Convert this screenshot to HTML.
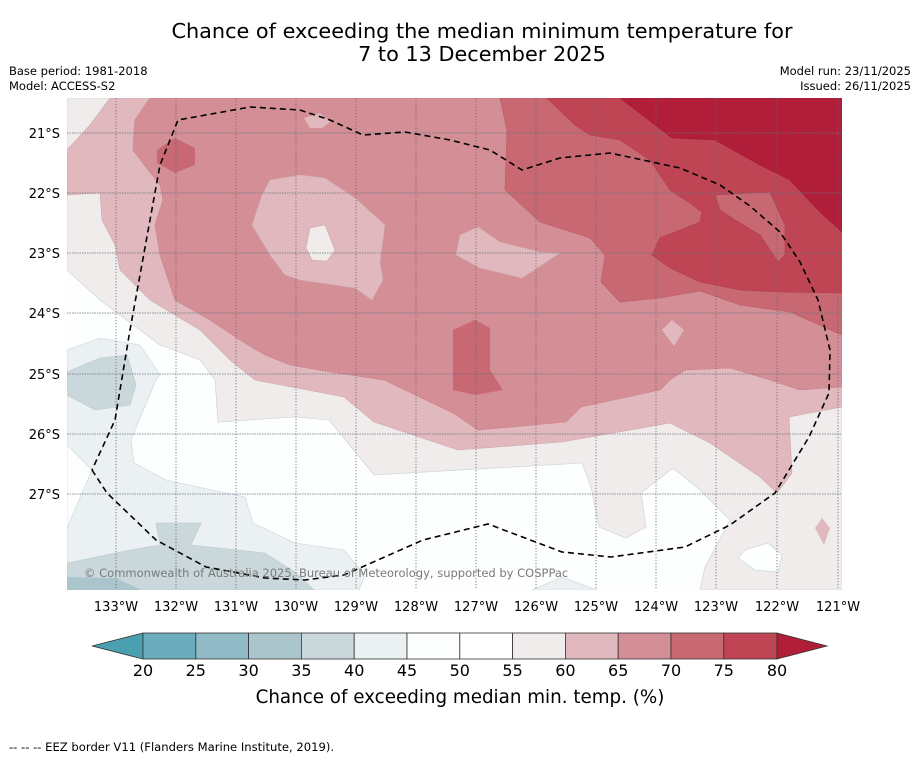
<!DOCTYPE html>
<html><head><meta charset="utf-8">
<style>
body{margin:0;background:#fff;width:919px;height:758px;overflow:hidden;font-family:"DejaVu Sans","Liberation Sans",sans-serif;}
svg{display:block}
</style></head>
<body>
<svg width="919" height="758" viewBox="0 0 919 758">
<text x="482" y="38" text-anchor="middle" font-size="20.8" fill="#000">Chance of exceeding the median minimum temperature for</text>
<text x="482" y="61" text-anchor="middle" font-size="20.8" fill="#000">7 to 13 December 2025</text>
<text x="9" y="75" font-size="11.5">Base period: 1981-2018</text>
<text x="9" y="90" font-size="11.5">Model: ACCESS-S2</text>
<text x="911" y="75" font-size="11.5" text-anchor="end">Model run: 23/11/2025</text>
<text x="911" y="90" font-size="11.5" text-anchor="end">Issued: 26/11/2025</text>

<defs><clipPath id="mc"><rect x="67" y="98" width="775" height="492"/></clipPath></defs>
<g clip-path="url(#mc)" stroke-width="0.6">
<rect x="67" y="98" width="775" height="492" fill="#fdfefe"/>
<polygon fill="#ebf0f2" stroke="#c8d6dc" points="67,350 100,338 140,345 160,375 156,380 131,440 134,463 166,480 245,497 253,523 295,543 344,550 365,575 359,590 67,590"/>
<polygon fill="#fdfefe" stroke="#c8d6dc" points="67,445 92,470 67,528"/>
<polygon fill="#ebf0f2" stroke="#c8d6dc" points="532,590 562,577 597,590"/>
<polygon fill="#cad8dc" stroke="#b8cad0" points="67,372 100,358 127,355 136,385 130,405 95,410 67,395"/>
<polygon fill="#cad8dc" stroke="#b8cad0" points="67,563 130,550 160,545 156,523 201,523 191,545 265,553 295,572 314,590 67,590"/>
<polygon fill="#aac6cc" points="67,577 116,578 141,590 67,590"/>
<polygon fill="#efeceb" stroke="#c8d0d4" points="67,98 842,98 842,590 700,590 705,567 730,520 700,490 673,468 641,493 646,527 626,538 599,527 591,487 582,463 374,475 329,420 295,417 218,422 215,380 200,360 160,345 100,300 67,270"/>
<polygon fill="#fdfefe" stroke="#c8d0d4" points="745,550 768,543 782,555 778,572 755,570 738,558"/>
<polygon fill="#e0b8bd" stroke="#cfa9ae" points="110,98 90,125 67,150 67,195 100,193 102,220 115,245 120,270 150,300 200,330 230,360 255,380 344,397 374,422 458,450 562,442 670,423 710,443 760,477 777,493 792,473 789,417 842,407 842,98"/>
<polygon fill="#e0b8bd" points="822,518 830,528 824,545 815,528"/>
<polygon fill="#d48e96" stroke="#c9828b" points="150,98 135,120 133,150 148,170 160,185 163,200 155,225 160,255 165,270 175,300 210,320 240,340 265,355 290,365 330,372 384,380 453,413 478,430 566,422 581,407 660,390 670,380 685,370 730,368 770,380 800,390 842,387 842,98"/>
<polygon fill="#e0b8bd" stroke="#cfa9ae" points="270,180 300,175 325,178 355,198 385,225 380,262 383,280 372,300 355,288 300,280 285,275 270,255 252,225 262,195"/>
<polygon fill="#efeceb" stroke="#cfa9ae" points="310,228 325,225 335,250 327,261 312,260 306,248"/>
<polygon fill="#e0b8bd" stroke="#cfa9ae" points="460,235 478,227 500,242 540,252 560,253 522,278 480,268 456,255"/>
<polygon fill="#e0b8bd" points="662,330 672,320 684,330 674,346"/>
<polygon fill="#e0b8bd" points="304,118 320,113 330,122 322,128 310,128"/>
<polygon fill="#c86872" stroke="#bb5c67" points="500,98 507,130 506,160 505,190 540,222 590,238 605,255 601,282 620,302 660,298 700,291 740,305 790,312 842,335 842,98"/>
<polygon fill="#c86872" points="157,150 175,138 195,148 195,165 175,173 157,163"/>
<polygon fill="#c86872" points="453,330 475,320 490,328 490,370 503,390 475,395 453,390"/>
<polygon fill="#bf4555" stroke="#b03c4c" points="547,98 575,125 590,135 620,140 650,160 670,190 690,203 702,212 700,222 680,230 660,238 652,255 670,268 700,282 740,290 780,292 842,293 842,98"/>
<polygon fill="#c86872" stroke="#b03c4c" points="715,195 770,192 785,225 785,255 778,262 760,235 735,220 720,210"/>
<polygon fill="#b01e3a" stroke="#a01a33" points="620,98 672,138 715,140 760,165 790,180 820,212 842,232 842,98"/>
<g stroke="#666" stroke-width="0.8" stroke-dasharray="1.2,1.8">
<line x1="116" y1="98" x2="116" y2="590"/><line x1="176" y1="98" x2="176" y2="590"/><line x1="236" y1="98" x2="236" y2="590"/><line x1="296" y1="98" x2="296" y2="590"/><line x1="356" y1="98" x2="356" y2="590"/><line x1="416" y1="98" x2="416" y2="590"/><line x1="476" y1="98" x2="476" y2="590"/><line x1="536" y1="98" x2="536" y2="590"/><line x1="596" y1="98" x2="596" y2="590"/><line x1="656" y1="98" x2="656" y2="590"/><line x1="716" y1="98" x2="716" y2="590"/><line x1="777" y1="98" x2="777" y2="590"/><line x1="838" y1="98" x2="838" y2="590"/>
</g>
<g stroke="#6a7480" stroke-width="0.8" stroke-dasharray="1.5,1">
<line x1="67" y1="133" x2="842" y2="133"/><line x1="67" y1="193" x2="842" y2="193"/><line x1="67" y1="253" x2="842" y2="253"/><line x1="67" y1="313" x2="842" y2="313"/><line x1="67" y1="374" x2="842" y2="374"/><line x1="67" y1="434" x2="842" y2="434"/><line x1="67" y1="494" x2="842" y2="494"/>
</g>
<polyline fill="none" stroke="#000" stroke-width="1.6" stroke-dasharray="6,4" points="92,470 107,493 156,540 206,567 265,578 305,580 344,575 423,540 488,524 562,552 611,557 685,547 730,525 775,493 809,437 829,393 830,350 818,300 800,262 780,232 750,206 720,185 680,168 610,153 560,158 522,170 490,150 450,140 405,132 363,135 330,120 300,110 250,107 178,120 160,165 150,220 130,330 115,420 92,470"/>
<text x="84" y="577" font-size="11.5" fill="#7a7a7a">© Commonwealth of Australia 2025, Bureau of Meteorology, supported by COSPPac</text>
</g>

<g font-size="13" text-anchor="end">
<text x="60" y="138">21°S</text><text x="60" y="198">22°S</text><text x="60" y="258">23°S</text><text x="60" y="318">24°S</text><text x="60" y="379">25°S</text><text x="60" y="439">26°S</text><text x="60" y="499">27°S</text>
</g>
<g font-size="13" text-anchor="middle">
<text x="116" y="611">133°W</text><text x="176" y="611">132°W</text><text x="236" y="611">131°W</text><text x="296" y="611">130°W</text><text x="356" y="611">129°W</text><text x="416" y="611">128°W</text><text x="476" y="611">127°W</text><text x="536" y="611">126°W</text><text x="596" y="611">125°W</text><text x="656" y="611">124°W</text><text x="716" y="611">123°W</text><text x="777" y="611">122°W</text><text x="838" y="611">121°W</text>
</g>

<g stroke="#333" stroke-width="0.8">
<polygon points="143,633 143,659 92,646" fill="#4aa0b0"/>
<rect x="143" y="633" width="52.8" height="26" fill="#6badbd"/>
<rect x="195.8" y="633" width="52.8" height="26" fill="#8fbac6"/>
<rect x="248.6" y="633" width="52.8" height="26" fill="#aac6cc"/>
<rect x="301.4" y="633" width="52.8" height="26" fill="#cad8dc"/>
<rect x="354.2" y="633" width="52.8" height="26" fill="#ebf0f2"/>
<rect x="407" y="633" width="52.8" height="26" fill="#fdfefe"/>
<rect x="459.8" y="633" width="52.8" height="26" fill="#ffffff"/>
<rect x="512.6" y="633" width="52.8" height="26" fill="#efeceb"/>
<rect x="565.4" y="633" width="52.8" height="26" fill="#e0b8bd"/>
<rect x="618.2" y="633" width="52.8" height="26" fill="#d48e96"/>
<rect x="671" y="633" width="52.8" height="26" fill="#c86872"/>
<rect x="723.8" y="633" width="53.2" height="26" fill="#bf4555"/>
<polygon points="777,633 777,659 827,646" fill="#b01e3a"/>
</g>
<g font-size="16" text-anchor="middle">
<text x="143" y="676">20</text><text x="195.8" y="676">25</text><text x="248.6" y="676">30</text><text x="301.4" y="676">35</text><text x="354.2" y="676">40</text><text x="407" y="676">45</text><text x="459.8" y="676">50</text><text x="512.6" y="676">55</text><text x="565.4" y="676">60</text><text x="618.2" y="676">65</text><text x="671" y="676">70</text><text x="723.8" y="676">75</text><text x="777" y="676">80</text>
</g>
<text x="460" y="703" font-size="18.3" text-anchor="middle">Chance of exceeding median min. temp. (%)</text>
<text x="9" y="751" font-size="11.6">--  --  -- EEZ border V11 (Flanders Marine Institute, 2019).</text>
</svg>
</body></html>
